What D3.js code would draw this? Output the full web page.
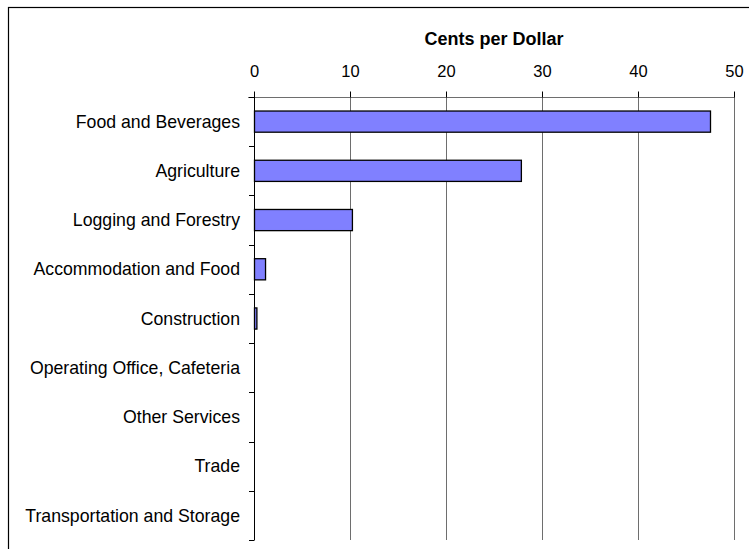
<!DOCTYPE html>
<html>
<head>
<meta charset="utf-8">
<script src="https://cdn.jsdelivr.net/npm/d3@7"></script>
<style>
  html, body { margin: 0; padding: 0; background: #fff; }
  svg text { font-family: "Liberation Sans", Arial, sans-serif; fill: #000; }
</style>
</head>
<body>
<svg id="chart" width="749" height="549"></svg>
<script>
// Industry categories, top to bottom
const categories = [
  "Food and Beverages",
  "Agriculture",
  "Logging and Forestry",
  "Accommodation and Food",
  "Construction",
  "Operating Office, Cafeteria",
  "Other Services",
  "Trade",
  "Transportation and Storage"
];
// Cents per dollar for each category
const values = [47.5, 27.8, 10.2, 1.15, 0.25, 0, 0, 0, 0];
const xTicks = [0, 10, 20, 30, 40, 50];
const axisTitle = "Cents per Dollar";

const data = categories.map((c, i) => ({ name: c, value: values[i] }));

const svg = d3.select("#chart");
const margin = { left: 254, top: 97, right: 15, bottom: 9 };
const W = 749, H = 549;

// outer frame (runs past the right and bottom edges)
svg.append("rect")
  .attr("x", 8.5).attr("y", 7.5)
  .attr("width", 760).attr("height", 560)
  .attr("fill", "none").attr("stroke", "#000").attr("stroke-width", 1.2);

const x = d3.scaleLinear().domain([0, 50]).range([margin.left, W - margin.right]);
const y = d3.scaleBand().domain(categories)
  .range([margin.top, H - margin.bottom])
  .paddingInner(0.57).paddingOuter(0.285);

const bandStep = y.step();
const y0 = margin.top, y1 = H - margin.bottom;

// vertical gridlines
svg.append("g").selectAll("line")
  .data(xTicks.filter(t => t > 0))
  .join("line")
  .attr("x1", d => Math.round(x(d)) + 0.5).attr("x2", d => Math.round(x(d)) + 0.5)
  .attr("y1", y0).attr("y2", y1)
  .attr("stroke", "#6e6e6e").attr("stroke-width", 1);

// top value axis
const xAxis = d3.axisTop(x).tickValues(xTicks).tickSize(6).tickPadding(15)
  .tickFormat(d3.format("d"));
const gx = svg.append("g")
  .attr("transform", `translate(0,${y0 + 0.5})`)
  .call(xAxis);
gx.select(".domain").attr("stroke", "#6e6e6e").attr("d", `M${x(0) - 6},0H${x(50)}`);
gx.selectAll(".tick line").attr("stroke", "#000");
gx.selectAll(".tick text").style("font-size", "16.5px").attr("fill", "#000");

// axis title
svg.append("text")
  .attr("x", (x(0) + x(50)) / 2).attr("y", 45)
  .attr("text-anchor", "middle")
  .style("font-size", "18px").style("font-weight", "bold")
  .text(axisTitle);

// bars
svg.append("g").selectAll("rect")
  .data(data.filter(d => d.value > 0))
  .join("rect")
  .attr("x", x(0) + 0.5)
  .attr("y", d => y(d.name))
  .attr("width", d => x(d.value) - x(0))
  .attr("height", y.bandwidth())
  .attr("fill", "#8080ff")
  .attr("stroke", "#000").attr("stroke-width", 1.3);

// category axis
svg.append("line")
  .attr("x1", x(0) + 0.5).attr("x2", x(0) + 0.5)
  .attr("y1", y0).attr("y2", y1)
  .attr("stroke", "#000");

const boundaries = d3.range(categories.length + 1).map(i => y0 + i * bandStep);
svg.append("g").selectAll("line")
  .data(boundaries)
  .join("line")
  .attr("x1", x(0) - 5).attr("x2", x(0) + 0.5)
  .attr("y1", d => Math.round(d) + 0.5).attr("y2", d => Math.round(d) + 0.5)
  .attr("stroke", "#000");

svg.append("g").selectAll("text")
  .data(categories)
  .join("text")
  .attr("x", x(0) - 14)
  .attr("y", d => y(d) + y.bandwidth() / 2)
  .attr("dy", "0.35em")
  .attr("text-anchor", "end")
  .style("font-size", "17.7px")
  .text(d => d);
</script>
</body>
</html>
